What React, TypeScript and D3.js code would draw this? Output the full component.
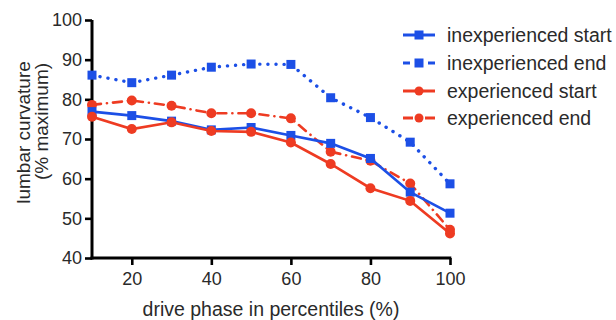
import { useRef, useEffect } from "react";
import * as d3 from "d3";

const phases = [10, 20, 30, 40, 50, 60, 70, 80, 90, 100];
const inexpStart = [76.9, 75.9, 74.5, 72.3, 72.9, 70.9, 68.9, 65.1, 56.6, 51.3];
const inexpEnd = [86.1, 84.2, 86.1, 88.1, 88.9, 88.8, 80.4, 75.4, 69.2, 58.7];
const expStart = [75.6, 72.5, 74.2, 72.0, 71.8, 69.1, 63.7, 57.6, 54.4, 46.2];
const expEnd = [78.6, 79.7, 78.4, 76.5, 76.5, 75.2, 66.8, 64.5, 58.8, 47.1];
const xTicks = [20, 40, 60, 80, 100];
const yTicks = [40, 50, 60, 70, 80, 90, 100];
const yTitleLines = ["lumbar curvature", "(% maximum)"];

const BLUE = "#1c4fe6";
const RED = "#ee3b22";

const series = [
  { name: "inexperienced start", values: inexpStart, color: BLUE, shape: "square", dash: null },
  { name: "inexperienced end", values: inexpEnd, color: BLUE, shape: "square", dash: "0.1 8" },
  { name: "experienced start", values: expStart, color: RED, shape: "circle", dash: null },
  { name: "experienced end", values: expEnd, color: RED, shape: "circle", dash: "9 6 0.1 6" },
];

export default function App() {
  const svgRef = useRef<SVGSVGElement>(null);

  useEffect(() => {
    const svg = d3.select(svgRef.current);
    svg.selectAll("*").remove();

    const font = "Liberation Sans, Arial, sans-serif";
    const textColor = "#2a2a2a";
    const x = d3.scaleLinear().domain([10, 100]).range([92, 450]);
    const y = d3.scaleLinear().domain([40, 100]).range([258, 20]);

    // axes
    const xAxis = svg
      .append("g")
      .attr("transform", `translate(0,${y(40)})`)
      .call(d3.axisBottom(x).tickValues(xTicks).tickSize(7).tickPadding(7).tickSizeOuter(0));
    const yAxis = svg
      .append("g")
      .attr("transform", `translate(${x(10)},0)`)
      .call(d3.axisLeft(y).tickValues(yTicks).tickSize(7).tickPadding(3).tickSizeOuter(0));

    [xAxis, yAxis].forEach((ax) => {
      ax.select(".domain").attr("stroke", "#000").attr("stroke-width", 3);
      ax.selectAll(".tick line").attr("stroke", "#000").attr("stroke-width", 2.6);
      ax.selectAll(".tick text")
        .attr("fill", textColor)
        .attr("font-size", 18)
        .attr("font-family", font);
    });
    // x axis line joins the y axis
    xAxis.select(".domain").attr("d", `M${x(10) - 1.5},0H${x(100) + 1.3}`);
    yAxis.select(".domain").attr("d", `M0,${y(100)}V${y(40) + 1.5}`);

    const line = d3
      .line<number>()
      .x((_, i) => x(phases[i]))
      .y((d) => y(d));

    const drawMarker = (g: any, shape: string, color: string, cx: number, cy: number, r = 5) => {
      if (shape === "square") {
        g.append("rect")
          .attr("x", cx - r + 0.5)
          .attr("y", cy - r + 0.5)
          .attr("width", 2 * r - 1)
          .attr("height", 2 * r - 1)
          .attr("fill", color);
      } else {
        g.append("circle").attr("cx", cx).attr("cy", cy).attr("r", r).attr("fill", color);
      }
    };

    const plot = svg.append("g");
    // draw order: end series first, then starts
    [series[1], series[3], series[0], series[2]].forEach((s) => {
      plot
        .append("path")
        .datum(s.values)
        .attr("fill", "none")
        .attr("stroke", s.color)
        .attr("stroke-width", s.dash === "0.1 8" ? 3.4 : 2.6)
        .attr("stroke-linecap", s.dash ? "round" : "butt")
        .attr("stroke-dasharray", s.dash)
        .attr("d", line);
      s.values.forEach((v, i) => drawMarker(plot, s.shape, s.color, x(phases[i]), y(v)));
    });

    // legend
    const lg = svg.append("g");
    const rowY = [35, 63, 91, 118];
    series.forEach((s, i) => {
      const ly = rowY[i];
      const path =
        s.dash === "0.1 8"
          ? `M403,${ly}H410M428,${ly}H435`
          : s.dash
          ? `M403,${ly}H413M425,${ly}H435`
          : `M403,${ly}H435`;
      lg.append("path").attr("d", path).attr("stroke", s.color).attr("stroke-width", 3);
      drawMarker(lg, s.shape, s.color, 419, ly, s.shape === "square" ? 5 : 4.5);
      lg.append("text")
        .attr("x", 447)
        .attr("y", ly)
        .attr("dy", "0.35em")
        .attr("font-size", 19.5)
        .attr("font-family", font)
        .attr("fill", textColor)
        .text(s.name);
    });

    // axis titles
    svg
      .append("text")
      .attr("x", 271)
      .attr("y", 316)
      .attr("text-anchor", "middle")
      .attr("font-size", 19.5)
      .attr("font-family", font)
      .attr("fill", textColor)
      .text("drive phase in percentiles (%)");

    const titlePos = [
      [29.5, 132.5],
      [48, 121.5],
    ];
    yTitleLines.forEach((t, i) => {
      svg
        .append("text")
        .attr("transform", `translate(${titlePos[i][0]},${titlePos[i][1]}) rotate(-90)`)
        .attr("text-anchor", "middle")
        .attr("font-size", 19)
        .attr("font-family", font)
        .attr("fill", textColor)
        .text(t);
    });
  }, []);

  return <svg ref={svgRef} width={616} height={320} style={{ position: "absolute", left: 0, top: 0 }} />;
}
